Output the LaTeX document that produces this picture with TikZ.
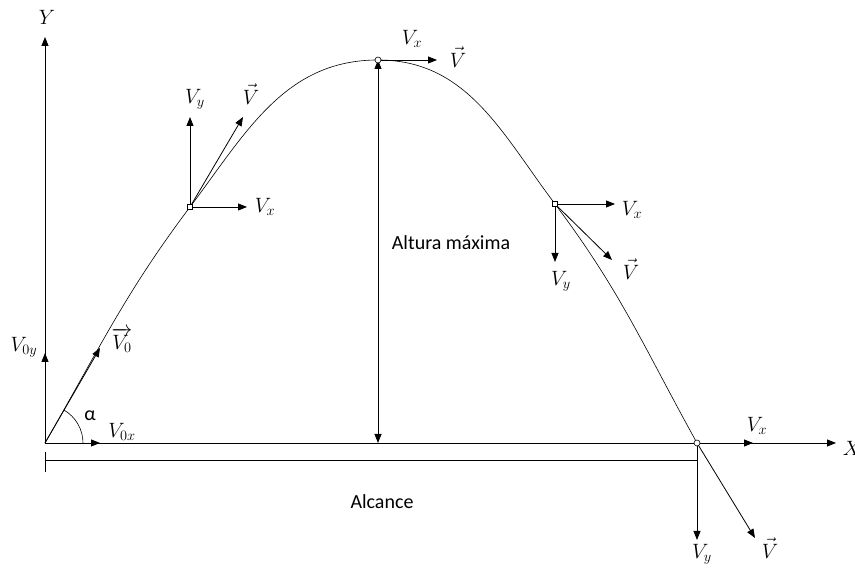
\documentclass[tikz,border=0pt]{standalone}
\usepackage{amsmath}
\usepackage{fontspec}
\setmainfont{Carlito}
\usepackage{tikz}
\usetikzlibrary{arrows.meta}

\begin{document}
\begin{tikzpicture}[x=1pt,y=1pt,
  vec/.style={line width=0.8pt,-{Triangle[length=9pt,width=7pt]}},
  lbl/.style={inner sep=0pt,font=\fontsize{20}{22}\selectfont},
  ring/.style={circle,draw,fill=white,inner sep=0pt,minimum size=6pt,line width=0.6pt},
  box/.style={rectangle,draw,fill=white,inner sep=0pt,minimum size=5pt,line width=0.6pt}]
   \useasboundingbox (0,0) rectangle (855,569);
   \path
    (45,126)  coordinate (o)
    (190,362) coordinate (p1)
    (378,509) coordinate (p2)
    (555,365) coordinate (p3)
    (697,126) coordinate (p4)
    (45,532)  coordinate (ytip)
    (836,126) coordinate (xtip);

    % ejes
    \draw[vec] (o) -- (ytip);
    \draw[vec] (o) -- (xtip);
    \node[lbl] (ylab) at (47,552) {$Y$};
    \node[lbl] (xlab) at (852,121) {$X$};

    % trayectoria
    \draw[line width=0.6pt] (o) to[out=60,in=233] (p1)
      to[out=53,in=180] (p2)
      to[out=0,in=127] (p3)
      to[out=-53,in=119] (p4);

    % velocidad inicial
    \path (100,221) coordinate (v0) (45,216) coordinate (v0y)
      (100,126) coordinate (v0x);
    \draw[vec] (o) -- (v0);
    \draw[vec] (o) -- (v0y);
    \draw[vec] (o) -- (v0x);
    \draw[line width=0.6pt] (o) ++(38,0) arc[start angle=0,end angle=60,radius=38];
    \node[lbl] (lv0) at (122,229) {$\overrightarrow{V_0}$};
    \node[lbl] (lv0y) at (24,222) {$V_{0y}$};
    \node[lbl] (lv0x) at (122,137) {$V_{0x}$};
    \node[lbl] (lalpha) at (90,153) {α};

    % punto de subida
    \path (190,452) coordinate (a1) (243,452) coordinate (a2) (247,362) coordinate (a3);
    \draw[vec] (p1) -- (a1);
    \draw[vec] (p1) -- (a2);
    \draw[vec] (p1) -- (a3);
    \node[lbl] (la1) at (195,470) {$V_y$};
    \node[lbl] (la2) at (251,475) {$\vec{V}$};
    \node[lbl] (la3) at (265,362) {$V_x$};

    % altura maxima
    \path (437,509) coordinate (c1) (378,126) coordinate (c0);
    \draw[vec] (p2) -- (c1);
    \draw[line width=0.8pt,{Triangle[length=9pt,width=7pt]}-{Triangle[length=9pt,width=7pt]}]
      (p2) -- (c0);
    \node[lbl] (lc1) at (412,530) {$V_x$};
    \node[lbl] (lc2) at (458,512) {$\vec{V}$};
    \node[lbl] (lalt) at (451,326) {Altura máxima};

    % punto de bajada
    \path (615,365) coordinate (d1) (555,307) coordinate (d2) (612,309) coordinate (d3);
    \draw[vec] (p3) -- (d1);
    \draw[vec] (p3) -- (d2);
    \draw[vec] (p3) -- (d3);
    \node[lbl] (ld1) at (632,359) {$V_x$};
    \node[lbl] (ld2) at (561,288) {$V_y$};
    \node[lbl] (ld3) at (631,300) {$\vec{V}$};

    % punto de llegada
    \path (753,126) coordinate (e1) (697,29) coordinate (e2) (755,31) coordinate (e3);
    \draw[vec] (p4) -- (e1);
    \draw[vec] (p4) -- (e2);
    \draw[vec] (p4) -- (e3);
    \node[lbl] (le1) at (757,143) {$V_x$};
    \node[lbl] (le2) at (702,15) {$V_y$};
    \node[lbl] (le3) at (770,21) {$\vec{V}$};

    % alcance
    \path (45,117) coordinate (t1) (45,97) coordinate (t2)
      (45,109) coordinate (r0) (697,109) coordinate (r1);
    \draw[line width=0.8pt] (t1) -- (t2);
    \draw[line width=0.8pt] (r0) -- (r1);
    \node[lbl] (lalc) at (382,67) {Alcance};

    % marcas
    \node[box] (m1) at (p1) {};
    \node[ring] (m2) at (p2) {};
    \node[box] (m3) at (p3) {};
    \node[ring] (m4) at (p4) {};
\end{tikzpicture}
\end{document}
